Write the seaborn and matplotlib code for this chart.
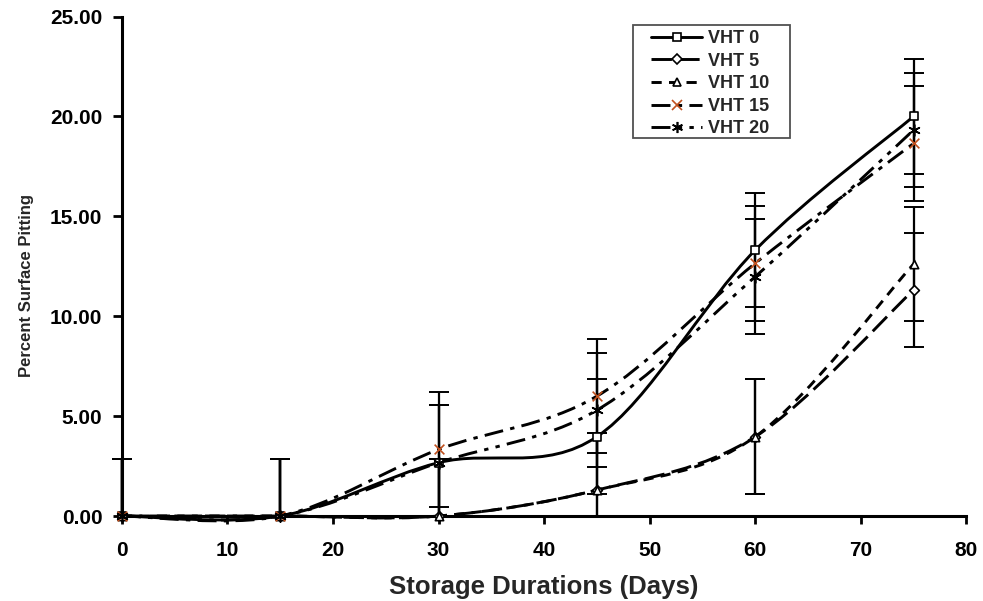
import numpy as np
import pandas as pd
import matplotlib
matplotlib.use("Agg")
import matplotlib.pyplot as plt
from matplotlib.path import Path
from matplotlib.patches import PathPatch, Rectangle
from matplotlib.lines import Line2D
import seaborn as sns

# ---- data ----
days = [0, 15, 30, 45, 60, 75]
vht0 = [0.00, 0.00, 2.67, 3.97, 13.31, 20.00]
vht5 = [0.00, 0.00, 0.00, 1.30, 3.97, 11.31]
vht10 = [0.00, 0.00, 0.00, 1.30, 3.97, 12.61]
vht15 = [0.00, 0.00, 3.33, 6.00, 12.65, 18.65]
vht20 = [0.00, 0.00, 2.67, 5.30, 11.98, 19.32]
err0 = [2.87, 2.87, 2.87, 2.87, 2.87, 2.87]
err5 = [2.87, 2.87, 2.87, 2.87, 2.87, 2.87]
err10 = [2.87, 2.87, 2.87, 2.87, 2.87, 2.87]
err15 = [2.87, 2.87, 2.87, 2.87, 2.87, 2.87]
err20 = [2.87, 2.87, 2.87, 2.87, 2.87, 2.87]
labels = ["VHT 0", "VHT 5", "VHT 10", "VHT 15", "VHT 20"]
x_ticks = [0, 10, 20, 30, 40, 50, 60, 70, 80]
y_ticks = [0, 5, 10, 15, 20, 25]

sns.set_style("ticks")
plt.rcParams["font.family"] = ["Liberation Sans", "DejaVu Sans"]

fig = plt.figure(figsize=(9.83, 6.01), dpi=100)
ax = fig.add_axes([0.124, 0.1414, 0.859, 0.831])

series = [vht0, vht5, vht10, vht15, vht20]
errs = [err0, err5, err10, err15, err20]
dash_styles = ["-", (0, (7, 2.5)), (0, (3.5, 2.5)), (0, (6.5, 2.5, 1.5, 2.5)),
               (0, (6.5, 2.5, 1.5, 2.5, 1.5, 2.5))]
markers = ["s", "D", "^", "x", (6, 2, 0)]
msizes = [6, 5, 6, 7, 8]
mface = ["white", "white", "white", "#C0501E", "black"]
medge = ["black", "black", "black", "#C0501E", "black"]
LW = 2.1


def smooth_path(xs, ys):
    # Excel-style smoothed line: cubic Bezier segments (Catmull-Rom tangents)
    P = np.column_stack([xs, ys]).astype(float)
    n = len(P)
    verts = [tuple(P[0])]
    codes = [Path.MOVETO]
    for i in range(n - 1):
        p_prev = P[i - 1] if i > 0 else P[i]
        p_next2 = P[i + 2] if i + 2 < n else P[i + 1]
        c1 = P[i] + (P[i + 1] - p_prev) / 6.0
        c2 = P[i + 1] - (p_next2 - P[i]) / 6.0
        verts += [tuple(c1), tuple(c2), tuple(P[i + 1])]
        codes += [Path.CURVE4] * 3
    return Path(verts, codes)


# clip region: no clipping at the sides, clipped at the x axis
clip_rect = Rectangle((-0.05, 0.0), 1.1, 1.1, transform=ax.transAxes,
                      facecolor="none", edgecolor="none")

# error bars
for ys, es in zip(series, errs):
    eb = ax.errorbar(days, ys, yerr=es, fmt="none", ecolor="black", elinewidth=1.6,
                     capsize=7, capthick=1.4, zorder=2)
    for art in list(eb.lines[1]) + list(eb.lines[2]):
        art.set_clip_path(clip_rect)

# smoothed lines
for ys, ls in zip(series, dash_styles):
    patch = PathPatch(smooth_path(days, ys), facecolor="none", edgecolor="black",
                      linewidth=LW, linestyle=ls, zorder=3, capstyle="butt",
                      clip_on=False)
    ax.add_patch(patch)

# markers
for ys, lab, m, ms, fc, ec in zip(series, labels, markers, msizes, mface, medge):
    df = pd.DataFrame({"Days": days, "Pitting": ys})
    sns.scatterplot(data=df, x="Days", y="Pitting", ax=ax, marker=m, s=ms ** 2,
                    facecolor=fc, edgecolor=ec, linewidth=1.2, zorder=4, legend=False,
                    color=ec, clip_on=False)

ax.set_xlim(0, 80)
ax.set_ylim(0, 25)
ax.set_xticks(x_ticks)
ax.set_yticks(y_ticks)
ax.set_yticklabels([f"{v:.2f}" for v in y_ticks])
for sp in ["top", "right"]:
    ax.spines[sp].set_visible(False)
for sp in ["left", "bottom"]:
    ax.spines[sp].set_linewidth(2.2)
    ax.spines[sp].set_color("black")
ax.tick_params(axis="x", direction="out", length=5.4, width=2, colors="black",
               labelsize=15, pad=12.5)
ax.tick_params(axis="y", direction="out", length=6.5, width=2, colors="black",
               labelsize=15, pad=7.5)
for t in ax.get_xticklabels() + ax.get_yticklabels():
    t.set_fontweight("bold")
ax.set_xlabel("Storage Durations (Days)", fontsize=18.5, fontweight="bold")
ax.set_ylabel("Percent Surface Pitting", fontsize=12, fontweight="bold")
ax.xaxis.set_label_coords(0.499, -0.118)
ax.yaxis.set_label_coords(-0.104, 0.461)

handles = []
for lab, ls, m, ms, fc, ec in zip(labels, dash_styles, markers, msizes, mface, medge):
    handles.append(Line2D([], [], color="black", linewidth=LW, linestyle=ls, marker=m,
                          markersize=ms, markerfacecolor=fc, markeredgecolor=ec,
                          markeredgewidth=1.2))
leg = ax.legend(handles, labels, loc="upper left", bbox_to_anchor=(0.6268, 0.973),
                frameon=False, prop={"weight": "bold", "size": 13}, handlelength=2.83,
                labelspacing=0.31, borderpad=0.0, borderaxespad=0.0, handletextpad=0.3)
frame = Rectangle((0.6055, 0.7568), 0.186, 0.2262, transform=ax.transAxes,
                  facecolor="white", edgecolor="#505050", linewidth=1.3, zorder=4.5,
                  clip_on=False)
ax.add_patch(frame)
leg.set_zorder(5)

fig.savefig("out.png", dpi=100)
